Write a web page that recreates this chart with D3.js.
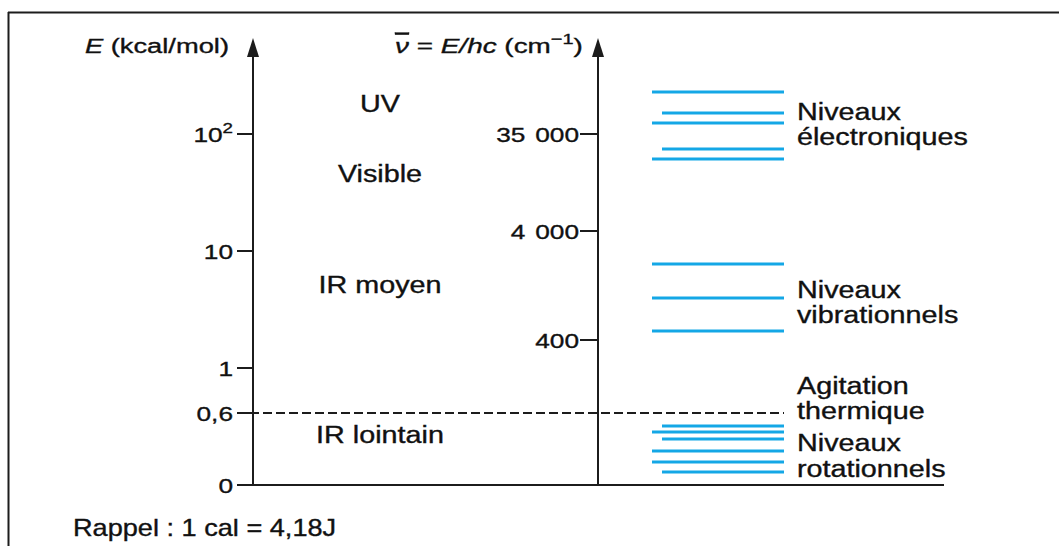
<!DOCTYPE html>
<html><head><meta charset="utf-8">
<script src="https://cdn.jsdelivr.net/npm/d3@7"></script>
<style>
body{margin:0;background:#fff}
svg{display:block}
text{font-family:"Liberation Sans",Arial,Helvetica,sans-serif;fill:#111;stroke:#111;stroke-width:0.35px}
</style>
</head><body>
<svg id="c" width="1059" height="546"></svg>
<script>
// ---------- data ----------
const energyTicks = [0, 0.6, 1, 10, 100];
const energyTickLabels = ["0", "0,6", "1", "10", "10|2"];
const waveTicks = [400, 4000, 35000];
const waveTickLabels = ["400", "4 000", "35 000"];
const thermalEnergy = 0.6;

const regionNames = ["UV", "Visible", "IR moyen", "IR lointain"];
const regionEnergies = [180, 45.5, 5.1, 0.417];

const electronicLevels = [228, 151, 124, 74.5, 61];
const electronicTypes = ["long", "short", "long", "short", "long"];
const vibrationalLevels = [7.74, 3.96, 2.07];
const vibrationalTypes = ["long", "long", "long"];
const rotationalLevels = [0.492, 0.442, 0.383, 0.283, 0.192, 0.108];
const rotationalTypes = ["short", "long", "short", "long", "long", "short"];

const levelLabels = [["Niveaux", "électroniques"], ["Niveaux", "vibrationnels"], ["Agitation", "thermique"], ["Niveaux", "rotationnels"]];
const levelLabelEnergies = [132, 3.97, 0.769, 0.283];

const noteText = "Rappel : 1 cal = 4,18J";

// ---------- layout ----------
const svg = d3.select("#c");
const ink = "#1c1c1c";
const blue = "#14a7e6";
const xLeftAxis = 253, xRightAxis = 598, yTop = 56, yBase = 485;
const SX = 1.25;

// energy scale: linear below 1 kcal/mol, logarithmic above
const yLow = d3.scaleLinear().domain([0, 0.6, 1]).range([yBase, 413, 368]);
const yHigh = d3.scaleLog().domain([1, 100]).range([368, 134]);
const yE = e => e < 1 ? yLow(e) : yHigh(e);
const yNu = d3.scaleLog().domain([400, 4000, 35000]).range([340, 231, 134]);
const levelX = d3.scaleOrdinal().domain(["long", "short"]).range([652, 662]);
const levelXEnd = 784;

function label(x, y, size, anchor, sx, build) {
  const g = svg.append("g").attr("transform", `translate(${x},${y}) scale(${sx},1)`);
  const t = g.append("text").attr("font-size", size).attr("text-anchor", anchor);
  if (typeof build === "string") t.text(build); else build(t);
  return t;
}

// frame
svg.append("line").attr("x1", 8).attr("x2", 1059).attr("y1", 12.5).attr("y2", 12.5).attr("stroke", ink).attr("stroke-width", 2);
svg.append("line").attr("x1", 8.5).attr("x2", 8.5).attr("y1", 12).attr("y2", 546).attr("stroke", ink).attr("stroke-width", 2);

// base line
svg.append("line").attr("x1", 237).attr("x2", 944).attr("y1", yBase).attr("y2", yBase).attr("stroke", ink).attr("stroke-width", 2);

// vertical axes with arrows
[xLeftAxis, xRightAxis].forEach(x => {
  svg.append("line").attr("x1", x).attr("x2", x).attr("y1", yBase).attr("y2", yTop).attr("stroke", ink).attr("stroke-width", 2);
  svg.append("path").attr("d", `M${x},38 L${x - 6},57 L${x + 6},57 Z`).attr("fill", ink);
});

// left ticks
energyTicks.forEach((v, i) => {
  const y = yE(v);
  svg.append("line").attr("x1", 237).attr("x2", xLeftAxis).attr("y1", y).attr("y2", y).attr("stroke", ink).attr("stroke-width", 2);
  const parts = energyTickLabels[i].split("|");
  label(233, y + 7.5, 21, "end", SX, t => {
    t.append("tspan").text(parts[0]);
    if (parts[1]) t.append("tspan").attr("font-size", 15).attr("dy", -9).text(parts[1]);
  });
});

// right ticks
waveTicks.forEach((v, i) => {
  const y = yNu(v);
  svg.append("line").attr("x1", 580).attr("x2", xRightAxis).attr("y1", y).attr("y2", y).attr("stroke", ink).attr("stroke-width", 2);
  label(579, y + 7.5, 21, "end", SX, t => t.attr("word-spacing", 2).text(waveTickLabels[i]));
});

// thermal agitation dashed line
svg.append("line").attr("x1", 237).attr("x2", levelXEnd).attr("y1", yE(thermalEnergy)).attr("y2", yE(thermalEnergy))
  .attr("stroke", ink).attr("stroke-width", 2).attr("stroke-dasharray", "9,4");

// axis titles
label(229, 53, 21, "end", 1.3, t => {
  t.append("tspan").attr("font-style", "italic").text("E");
  t.append("tspan").text(" (kcal/mol)");
});
label(395, 53, 21, "start", 1.33, t => {
  t.append("tspan").attr("font-style", "italic").attr("text-decoration", "overline").text("ν");
  t.append("tspan").text(" = ");
  t.append("tspan").attr("font-style", "italic").text("E/hc");
  t.append("tspan").text(" (cm");
  t.append("tspan").attr("font-size", 15).attr("dy", -9).text("−1");
  t.append("tspan").attr("dy", 9).text(")");
});

// spectral regions
regionNames.forEach((n, i) => {
  label(380, yE(regionEnergies[i]) + 8, 23, "middle", SX, n);
});

// energy levels
const levels = [
  [electronicLevels, electronicTypes],
  [vibrationalLevels, vibrationalTypes],
  [rotationalLevels, rotationalTypes]
];
levels.forEach(([vals, types]) => {
  vals.forEach((v, i) => {
    svg.append("line").attr("x1", levelX(types[i])).attr("x2", levelXEnd)
      .attr("y1", yE(v)).attr("y2", yE(v)).attr("stroke", blue).attr("stroke-width", 3);
  });
});

// level labels
levelLabels.forEach((lines, i) => {
  const y0 = yE(levelLabelEnergies[i]);
  lines.forEach((s, j) => label(797, y0 + j * 25.5, 23, "start", SX, s));
});

// note
label(73, 536, 23, "start", 1.18, noteText);
</script>
</body></html>
